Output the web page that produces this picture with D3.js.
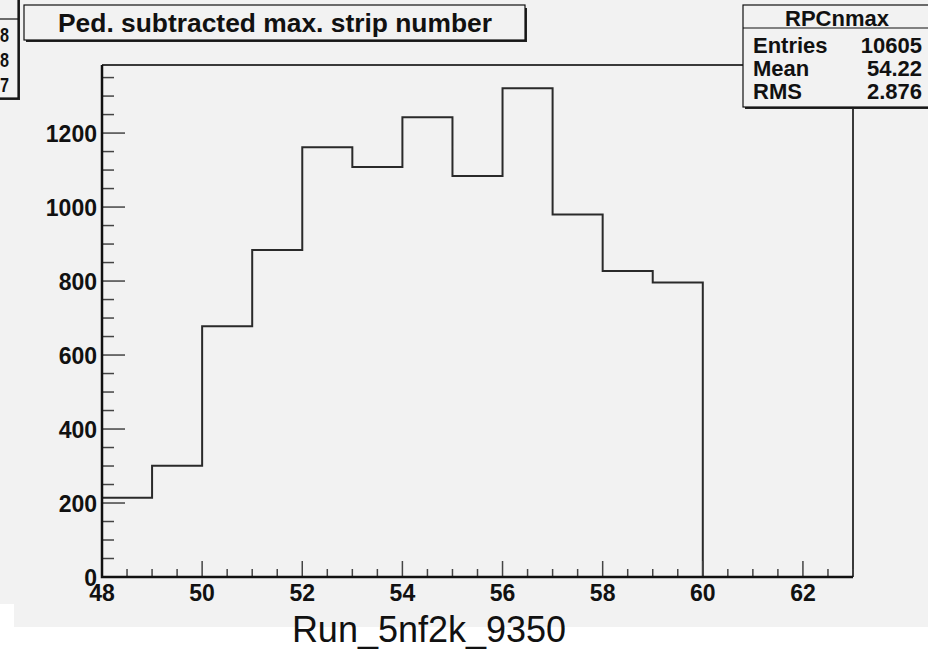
<!DOCTYPE html>
<html><head><meta charset="utf-8">
<script src="https://cdn.jsdelivr.net/npm/d3@7"></script>
<style>
html,body{margin:0;padding:0;background:#fff;}
svg{display:block;font-family:"Liberation Sans",Arial,Helvetica,sans-serif;}
</style></head>
<body><svg id="c" width="928" height="651"></svg>
<script>
// ---- data ----
const binLows = [48,49,50,51,52,53,54,55,56,57,58,59,60,61,62];
const counts  = [214,301,678,884,1162,1108,1243,1084,1321,980,827,796,0,0,0];
const xMajorTicks = [48,50,52,54,56,58,60,62];
const yMajorTicks = [0,200,400,600,800,1000,1200];
const titleText = "Ped. subtracted max. strip number";
const xAxisTitle = "Run_5nf2k_9350";
const statName = "RPCnmax";
const statLabels = ["Entries","Mean","RMS"];
const statValues = ["10605","54.22","2.876"];
const leftBoxDigits = ["8","8","7"];

const svg = d3.select("#c");
const W=928,H=651;
const L=102,R=853,T=65,B=577;

// background
svg.append("rect").attr("x",0).attr("y",0).attr("width",W).attr("height",H).attr("fill","#fff");
svg.append("path").attr("d",`M0,0H${W}V627H14V604H0Z`).attr("fill","#f2f2f2");

const x = d3.scaleLinear().domain([48,63]).range([L,R]);
const y = d3.scaleLinear().domain([0,1384]).range([B,T]);

// frame top/right
svg.append("path").attr("d",`M${L},${T}H${R}V${B}`).attr("fill","none").attr("stroke","#3a3a3a").attr("stroke-width",2);

// histogram
const pts = binLows.map((b,i)=>[b,counts[i]]);
pts.push([63,counts[counts.length-1]]);
const line = d3.line().x(d=>x(d[0])).y(d=>y(d[1])).curve(d3.curveStepAfter);
svg.append("path").attr("d",line(pts)).attr("fill","none").attr("stroke","#2a2a2a").attr("stroke-width",2);

// x axis ticks
const xMinor = d3.range(48,63.01,0.5);
const gx = svg.append("g");
gx.selectAll("line.mi").data(xMinor).join("line")
  .attr("x1",d=>x(d)).attr("x2",d=>x(d))
  .attr("y1",d=>B).attr("y2",d=>B-(xMajorTicks.includes(d)?16:8))
  .attr("stroke","#444").attr("stroke-width",1.5);
gx.selectAll("text").data(xMajorTicks).join("text")
  .attr("x",d=>x(d)).attr("y",B+24).attr("text-anchor","middle")
  .attr("font-size",23).attr("font-weight","bold").attr("fill","#111")
  .text(d=>d);

// y axis ticks
const yMinor = d3.range(0,1351,50);
const gy = svg.append("g");
gy.selectAll("line").data(yMinor).join("line")
  .attr("x1",L).attr("x2",d=>L+(d%200===0?23:12))
  .attr("y1",d=>y(d)).attr("y2",d=>y(d))
  .attr("stroke","#444").attr("stroke-width",1.5);
gy.selectAll("text").data(yMajorTicks).join("text")
  .attr("x",L-5).attr("y",d=>y(d)+9).attr("text-anchor","end")
  .attr("font-size",23).attr("font-weight","bold").attr("fill","#111")
  .text(d=>d);

// axis lines (thick)
svg.append("path").attr("d",`M${L},${T}V${B}H${R}`).attr("fill","none").attr("stroke","#111").attr("stroke-width",2.5);

// x axis title
svg.append("text").attr("x",429).attr("y",642).attr("text-anchor","middle")
  .attr("font-size",36).attr("fill","#111").text(xAxisTitle);

// title box
svg.append("rect").attr("x",26).attr("y",8).attr("width",501).attr("height",34).attr("fill","#222");
svg.append("rect").attr("x",24).attr("y",5).attr("width",501).attr("height",35).attr("fill","#f2f2f2").attr("stroke","#111").attr("stroke-width",1.2);
svg.append("text").attr("x",275).attr("y",32).attr("text-anchor","middle")
  .attr("font-size",26).attr("font-weight","bold").attr("fill","#111")
  .attr("textLength",434).attr("lengthAdjust","spacingAndGlyphs").text(titleText);

// left partial box
svg.append("rect").attr("x",-5).attr("y",-2).attr("width",25).attr("height",102).attr("fill","#222");
svg.append("rect").attr("x",-5).attr("y",-2).attr("width",23).attr("height",100).attr("fill","#f2f2f2").attr("stroke","#111").attr("stroke-width",1.2);
svg.append("line").attr("x1",0).attr("x2",18).attr("y1",19).attr("y2",19).attr("stroke","#111").attr("stroke-width",1.2);
svg.selectAll("text.lb").data(leftBoxDigits).join("text").attr("class","lb")
  .attr("x",9).attr("y",(d,i)=>42+i*25).attr("text-anchor","end")
  .attr("font-size",21).attr("font-weight","bold").attr("fill","#111")
  .attr("textLength",9).attr("lengthAdjust","spacingAndGlyphs").text(d=>d);

// stats box
const sx=743, sy=5, sw=190, sh=102;
svg.append("rect").attr("x",sx+2).attr("y",sy+2).attr("width",sw).attr("height",sh).attr("fill","#222");
svg.append("rect").attr("x",sx).attr("y",sy).attr("width",sw).attr("height",sh).attr("fill","#f2f2f2").attr("stroke","#111").attr("stroke-width",1.2);
svg.append("line").attr("x1",sx).attr("x2",W).attr("y1",28).attr("y2",28).attr("stroke","#111").attr("stroke-width",1.2);
svg.append("text").attr("x",837).attr("y",26).attr("text-anchor","middle")
  .attr("font-size",22).attr("font-weight","bold").attr("fill","#111").text(statName);
svg.selectAll("text.sl").data(statLabels).join("text").attr("class","sl")
  .attr("x",753).attr("y",(d,i)=>53+i*23)
  .attr("font-size",22).attr("font-weight","bold").attr("fill","#111").text(d=>d);
svg.selectAll("text.sv").data(statValues).join("text").attr("class","sv")
  .attr("x",922).attr("y",(d,i)=>53+i*23).attr("text-anchor","end")
  .attr("font-size",22).attr("font-weight","bold").attr("fill","#111").text(d=>d);
</script></body></html>
